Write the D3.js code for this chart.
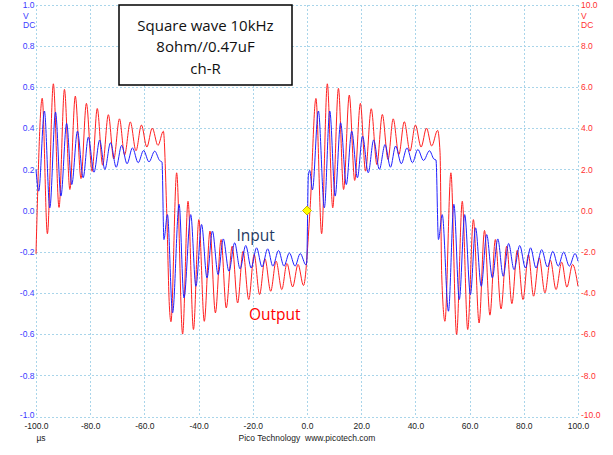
<!DOCTYPE html>
<html><head><meta charset="utf-8">
<script src="https://cdn.jsdelivr.net/npm/d3@7"></script>
<style>body{margin:0;background:#fff}svg{display:block}</style>
</head><body>
<svg id="c" width="613" height="455"></svg>
<script>
// ---- data ----
const inputT = [-100,-99.0,-96.9,-94.9,-92.8,-90.8,-88.7,-86.8,-84.7,-82.6,-80.7,-78.6,-76.5,-74.6,-72.5,-70.4,-68.4,-66.4,-64.4,-62.3,-60.3,-58.3,-56.2,-54.4,-53.5,-52.8,-51.5,-49.6,-47.2,-45.4,-42.9,-41.0,-38.9,-36.9,-34.9,-32.8,-30.9,-28.8,-26.7,-24.7,-22.6,-20.6,-18.6,-16.6,-14.5,-12.6,-10.5,-8.5,-6.5,-4.4,-2.5,-0.4,-0.1,0.5,1.0,2.0,4.2,6.4,8.4,10.4,12.4,14.5,16.5,18.6,20.5,22.6,24.6,26.7,28.8,30.8,32.7,34.8,36.9,38.9,40.9,43.0,45.2,46.8,47.6,48.5,49.9,52.2,54.2,56.2,58.2,60.3,62.2,64.3,66.3,68.4,70.4,72.4,74.4,76.4,78.5,80.6,82.5,84.5,86.6,88.7,90.7,92.7,94.7,96.8,98.9,100];
const inputV = [0.20,0.094,0.483,0.013,0.478,0.07,0.423,0.126,0.385,0.159,0.356,0.186,0.342,0.199,0.329,0.21,0.316,0.227,0.304,0.232,0.291,0.236,0.288,0.243,0.235,-0.141,-0.02,-0.497,0.03,-0.424,-0.02,-0.368,-0.068,-0.327,-0.10,-0.311,-0.138,-0.295,-0.157,-0.283,-0.17,-0.279,-0.181,-0.274,-0.186,-0.27,-0.194,-0.27,-0.206,-0.27,-0.209,-0.264,-0.25,0.17,0.195,0.10,0.483,0.013,0.483,0.07,0.426,0.126,0.385,0.159,0.361,0.183,0.342,0.2,0.32,0.21,0.313,0.227,0.304,0.232,0.296,0.243,0.29,0.25,0.245,-0.141,-0.02,-0.489,0.03,-0.432,-0.02,-0.408,-0.084,-0.368,-0.117,-0.327,-0.138,-0.319,-0.16,-0.287,-0.17,-0.279,-0.181,-0.279,-0.19,-0.274,-0.198,-0.27,-0.202,-0.27,-0.209,-0.246];

const outputT = [-100,-97.7,-95.8,-93.6,-91.5,-89.5,-87.5,-85.5,-83.4,-81.4,-79.3,-77.4,-75.4,-73.3,-71.3,-69.2,-67.3,-65.2,-63.1,-61.1,-59.1,-57.1,-55.0,-53.0,-51.8,-50.8,-50.2,-48.1,-45.9,-43.9,-41.9,-39.9,-37.9,-35.8,-33.8,-31.7,-29.8,-27.6,-25.6,-23.6,-21.5,-19.5,-17.5,-15.5,-13.4,-11.4,-9.3,-7.4,-5.3,-3.3,-1.3,1.1,3.3,5.4,7.5,9.5,11.6,13.5,15.6,17.6,19.7,21.6,23.7,25.8,27.8,29.9,31.8,33.9,35.9,38.0,40.0,42.1,44.1,46.0,48.2,49.1,49.7,50.9,53.1,55.2,57.3,59.3,61.4,63.5,65.5,67.5,69.5,71.6,73.7,75.6,77.6,79.7,81.7,83.6,85.7,87.8,89.8,91.9,94.0,95.9,98.0,100];
const outputV = [-2.1,5.45,-1.13,6.15,0.15,5.88,1.02,5.55,1.55,5.2,1.9,4.95,2.2,4.65,2.5,4.45,2.7,4.3,2.9,4.15,3.08,4.0,3.16,3.85,0.1,-4.6,-5.4,1.83,-6.0,0.45,-5.78,-0.44,-5.38,-1.0,-4.97,-1.41,-4.73,-1.73,-4.49,-1.98,-4.32,-2.14,-4.08,-2.35,-3.92,-2.46,-3.84,-2.57,-3.71,-2.62,-3.64,0.0,5.44,-1.13,6.15,0.13,5.93,1.02,5.6,1.46,5.2,1.91,4.94,2.23,4.66,2.48,4.45,2.72,4.31,2.88,4.15,3.08,4.0,3.13,3.89,2.8,-3.1,-5.38,1.83,-6.02,0.45,-5.78,-0.44,-5.46,-0.97,-5.08,-1.41,-4.78,-1.73,-4.52,-1.93,-4.32,-2.14,-4.16,-2.3,-4.0,-2.41,-3.84,-2.51,-3.72,-2.62,-3.68];

const timeTicks = [-100,-80,-60,-40,-20,0,20,40,60,80,100];
const leftTicks = [-1.0,-0.8,-0.6,-0.4,-0.2,0.0,0.2,0.4,0.6,0.8,1.0];
const rightTicks = [-10,-8,-6,-4,-2,0,2,4,6,8,10];
const titleLines = ["Square wave 10kHz","8ohm//0.47uF","ch-R"];
const seriesNames = ["Input","Output"];
const trigger = [0, 0];

// ---- drawing ----
const svg = d3.select("#c");
const x = d3.scaleLinear().domain([-100,100]).range([36,578]);
const yL = d3.scaleLinear().domain([-1,1]).range([416.5,4.5]);
const yR = d3.scaleLinear().domain([-10,10]).range([416.5,4.5]);

const gridColor = "#a9d5ea";
const grid = svg.append("g").attr("shape-rendering","crispEdges");
grid.selectAll("line.v").data(timeTicks).join("line")
  .attr("x1",d=>Math.round(x(d))+0.5).attr("x2",d=>Math.round(x(d))+0.5)
  .attr("y1",yL(1)).attr("y2",yL(-1))
  .attr("stroke",gridColor).attr("stroke-width",1).attr("stroke-dasharray","2,2");
grid.selectAll("line.h").data(leftTicks).join("line")
  .attr("y1",d=>Math.round(yL(d))+0.5).attr("y2",d=>Math.round(yL(d))+0.5)
  .attr("x1",x(-100)).attr("x2",x(100))
  .attr("stroke",gridColor).attr("stroke-width",1).attr("stroke-dasharray","2,2");

const fmt = d => d.toFixed(1);
const tickFont = "Liberation Sans, Arial, sans-serif";
const blueLab = "#3b3bff", redLab = "#ff3030";

const gl = svg.append("g").attr("transform",`translate(${x(-100)},0)`)
  .call(d3.axisLeft(yL).tickValues(leftTicks).tickSize(0).tickPadding(1.5).tickFormat(fmt));
const gr = svg.append("g").attr("transform",`translate(${x(100)},0)`)
  .call(d3.axisRight(yR).tickValues(rightTicks).tickSize(0).tickPadding(3).tickFormat(fmt));
const gb = svg.append("g").attr("transform",`translate(0,${yL(-1)})`)
  .call(d3.axisBottom(x).tickValues(timeTicks).tickSize(0).tickPadding(6.5).tickFormat(fmt));
[gl,gr,gb].forEach(g=>{ g.select(".domain").remove(); g.selectAll("text").attr("font-family",tickFont).attr("font-size","8.5px"); });
gl.selectAll("text").attr("fill",blueLab);
gr.selectAll("text").attr("fill",redLab);
gb.selectAll("text").attr("fill","#222");
// lift the bottom-most side labels a touch so they clear the time labels
gl.selectAll(".tick").filter(d=>d===-1).select("text").attr("dy","0.1em");
gr.selectAll(".tick").filter(d=>d===-10).select("text").attr("dy","0.1em");

// unit labels
const small = (sel)=>sel.attr("font-family",tickFont).attr("font-size","8.5px");
small(svg.append("text").attr("x",23).attr("y",yL(1)+14).text("V").attr("fill",blueLab));
small(svg.append("text").attr("x",23).attr("y",yL(1)+23).text("DC").attr("fill",blueLab));
small(svg.append("text").attr("x",x(100)+3).attr("y",yL(1)+14).text("V").attr("fill",redLab));
small(svg.append("text").attr("x",x(100)+3).attr("y",yL(1)+23).text("DC").attr("fill",redLab));
small(svg.append("text").attr("x",x(-100)+5).attr("y",yL(-1)+24).attr("text-anchor","middle").text("µs").attr("fill","#222"));
small(svg.append("text").attr("x",x(0)).attr("y",yL(-1)+24).attr("text-anchor","middle").attr("xml:space","preserve").text("Pico Technology  www.picotech.com").attr("fill","#222"));

// traces
const lineL = d3.line().x(d=>x(d[0])).y(d=>yL(d[1])).curve(d3.curveMonotoneX);
const lineR = d3.line().x(d=>x(d[0])).y(d=>yR(d[1])).curve(d3.curveMonotoneX);
svg.append("path").datum(d3.zip(outputT,outputV)).attr("d",lineR)
  .attr("fill","none").attr("stroke","#ff2020").attr("stroke-width",1);
svg.append("path").datum(d3.zip(inputT,inputV)).attr("d",lineL)
  .attr("fill","none").attr("stroke","#2020ff").attr("stroke-width",1);

// trigger marker
const tx = x(trigger[0]), ty = yL(trigger[1]);
svg.append("path").attr("d",`M${tx},${ty-4.5}L${tx+4.5},${ty}L${tx},${ty+4.5}L${tx-4.5},${ty}Z`)
  .attr("fill","#ffff00").attr("stroke","#c8b400").attr("stroke-width",1);

// annotation box
svg.append("rect").attr("x",119).attr("y",5).attr("width",173).attr("height",80)
  .attr("fill","#fff").attr("stroke","#000").attr("stroke-width",1.5);
const boxFont = "'Open Sans', Lato, sans-serif";
svg.selectAll("text.title").data(titleLines).join("text").attr("class","title")
  .attr("x",205.5).attr("y",(d,i)=>30.5+i*21.7).attr("text-anchor","middle")
  .attr("font-family",boxFont).attr("font-size","15px").attr("fill","#111").text(d=>d);

// series labels
svg.append("text").attr("x",236.5).attr("y",240.5).text(seriesNames[0])
  .attr("font-family",boxFont).attr("font-size","15.5px").attr("fill","#1f3a63");
svg.append("text").attr("x",249).attr("y",319.5).text(seriesNames[1])
  .attr("font-family",boxFont).attr("font-size","15.5px").attr("fill","#ff0000");
</script>
</body></html>
